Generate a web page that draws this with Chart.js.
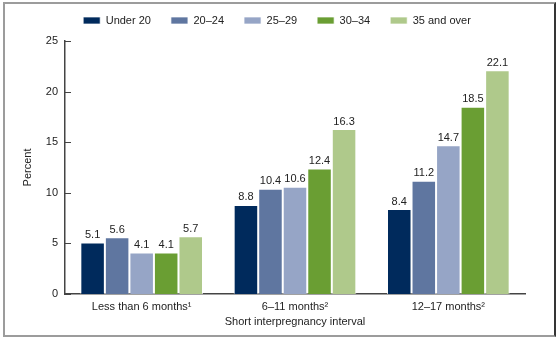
<!DOCTYPE html>
<html>
<head>
<meta charset="utf-8">
<script src="https://cdn.jsdelivr.net/npm/chart.js@4"></script>
<style>
    body { margin: 0; background: #fff; }
    #birthChart { position: absolute; left: 3px; top: 3px; display: block; }
    #frame {
        position: absolute; left: 3px; top: 2px; width: 549px; height: 331px;
        border: 2px solid #9c9c9c; border-right-color: #353535;
        pointer-events: none;
    }
</style>
</head>
<body>
<canvas id="birthChart" width="552" height="332"></canvas>
<div id="frame"></div>
<script>
const categories = ['Less than 6 months\u00b9', '6\u201311 months\u00b2', '12\u201317 months\u00b2'];
const ageGroups = ['Under 20', '20\u201324', '25\u201329', '30\u201334', '35 and over'];
const under20 = [5.1, 8.8, 8.4];
const age20to24 = [5.6, 10.4, 11.2];
const age25to29 = [4.1, 10.6, 14.7];
const age30to34 = [4.1, 12.4, 18.5];
const age35plus = [5.7, 16.3, 22.1];
const yTicks = [0, 5, 10, 15, 20, 25];
const colors = ['#002a5c', '#5f76a0', '#96a5c6', '#6a9e33', '#afc98b'];

const seriesValues = [under20, age20to24, age25to29, age30to34, age35plus];
const textColor = '#222';
const fontFamily = '"Liberation Sans", Arial, sans-serif';

// value labels above each bar
const valueLabels = {
    id: 'valueLabels',
    afterDatasetsDraw(chart) {
        const ctx = chart.ctx;
        ctx.save();
        ctx.font = '11px ' + fontFamily;
        ctx.fillStyle = textColor;
        ctx.textAlign = 'center';
        ctx.textBaseline = 'bottom';
        chart.data.datasets.forEach((ds, i) => {
            chart.getDatasetMeta(i).data.forEach((bar, j) => {
                ctx.fillText(ds.data[j].toFixed(1), bar.x, bar.y - 2);
            });
        });
        ctx.restore();
    }
};

// y-axis tick marks point into the plot
const innerTicks = {
    id: 'innerTicks',
    afterDraw(chart) {
        const y = chart.scales.y;
        const ctx = chart.ctx;
        ctx.save();
        ctx.strokeStyle = '#444';
        ctx.lineWidth = 1;
        yTicks.forEach(v => {
            const py = Math.round(y.getPixelForValue(v)) + 0.5;
            ctx.beginPath();
            ctx.moveTo(y.right, py);
            ctx.lineTo(y.right + 6, py);
            ctx.stroke();
        });
        ctx.restore();
    }
};

// nudge the legend row to where the original sits
const legendNudge = {
    id: 'legendNudge',
    afterLayout(chart) {
        const lg = chart.legend;
        lg.left += 13;
        lg.right += 13;
        lg.top -= 5;
        lg.bottom -= 5;
    }
};

new Chart(document.getElementById('birthChart').getContext('2d'), {
    type: 'bar',
    data: {
        labels: categories,
        datasets: ageGroups.map((name, i) => ({
            label: name,
            data: seriesValues[i],
            backgroundColor: colors[i],
            borderColor: 'rgba(255,255,255,0.7)',
            borderWidth: 1,
            barPercentage: 1,
            categoryPercentage: 0.8
        }))
    },
    options: {
        responsive: false,
        animation: false,
        layout: { padding: { left: 0, right: 30, top: -3, bottom: 6 } },
        plugins: {
            legend: {
                position: 'top',
                labels: {
                    boxWidth: 17,
                    boxHeight: 7,
                    padding: 20,
                    color: textColor,
                    font: { size: 11, family: fontFamily }
                }
            },
            tooltip: { enabled: false }
        },
        scales: {
            x: {
                grid: { display: false, drawTicks: false },
                border: { display: true, color: '#444', width: 1.5 },
                ticks: { color: textColor, font: { size: 11, family: fontFamily }, padding: 6 },
                title: {
                    display: true,
                    text: 'Short interpregnancy interval',
                    color: textColor,
                    font: { size: 11, family: fontFamily },
                    padding: { top: 2, bottom: 0 }
                },
                afterFit(scale) { scale.height = 35; }
            },
            y: {
                min: 0,
                max: 25,
                afterBuildTicks(scale) { scale.ticks = yTicks.map(v => ({ value: v })); },
                grid: { display: false, drawTicks: false },
                border: { display: true, color: '#444', width: 1.5 },
                ticks: { color: textColor, font: { size: 11, family: fontFamily }, padding: 7 },
                title: {
                    display: true,
                    text: 'Percent',
                    color: textColor,
                    font: { size: 11, family: fontFamily },
                    padding: { top: 18, bottom: 0 }
                },
                afterFit(scale) { scale.width = 62; }
            }
        }
    },
    plugins: [valueLabels, innerTicks, legendNudge]
});
</script>
</body>
</html>
